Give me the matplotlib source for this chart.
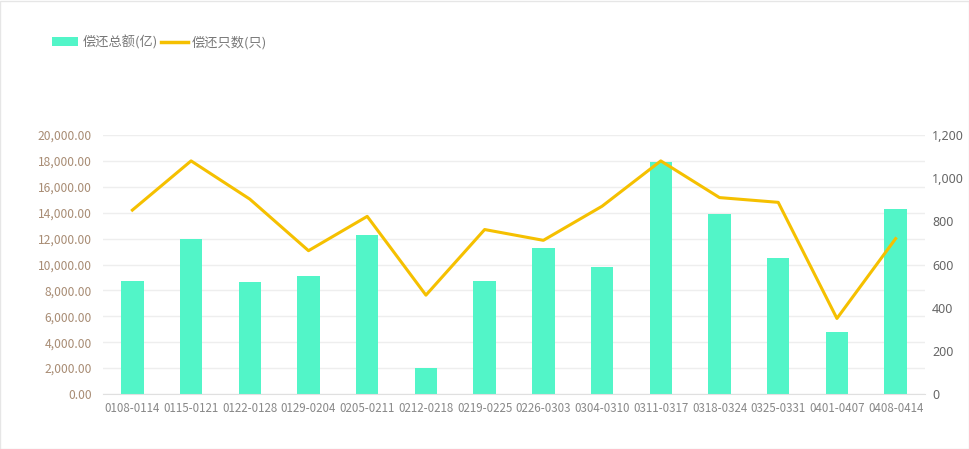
import matplotlib.pyplot as plt
from matplotlib.lines import Line2D
from matplotlib.patches import Patch, Rectangle

plt.rcParams['font.family'] = ['Noto Sans CJK SC', 'DejaVu Sans']

weeks = ['0108-0114', '0115-0121', '0122-0128', '0129-0204', '0205-0211',
         '0212-0218', '0219-0225', '0226-0303', '0304-0310', '0311-0317',
         '0318-0324', '0325-0331', '0401-0407', '0408-0414']
amount = [8720, 11970, 8650, 9110, 12280, 2010, 8720, 11270, 9800,
          17900, 13900, 10500, 4790, 14290]   # 偿还总额(亿)
count = [852, 1080, 903, 664, 823, 458, 762, 712, 870,
         1080, 910, 888, 350, 720]            # 偿还只数(只)

bar_color = '#52f5c8'
line_color = '#f5c000'
grid_color = '#eeeeee'

fig = plt.figure(figsize=(9.69, 4.49), dpi=100)
fig.patches.append(Rectangle((0.0005, 0.001), 0.999, 0.997, transform=fig.transFigure,
                             fill=False, edgecolor='#e6e6e6', linewidth=1))

ax = fig.add_axes([103 / 969, 1 - 394 / 449, (925 - 103) / 969, (394 - 135) / 449])
x = range(len(weeks))
ax.bar(x, amount, width=0.38, color=bar_color, zorder=2)
ax.set_ylim(0, 20000)
ax.set_xlim(-0.5, len(weeks) - 0.5)
ax.set_yticks(range(0, 20001, 2000))
ax.set_yticklabels([f'{v:,.2f}' for v in range(0, 20001, 2000)],
                   color='#a88c74', fontsize=8.7)
ax.set_xticks(list(x))
ax.set_xticklabels(weeks, color='#888888', fontsize=8.3)
ax.tick_params(length=0, pad=8)
ax.tick_params(axis='x', pad=6)
ax.grid(axis='y', color=grid_color, linewidth=1, zorder=0)
for s in ['top', 'right', 'left']:
    ax.spines[s].set_visible(False)
ax.spines['bottom'].set_color('#e0e0e0')

ax2 = ax.twinx()
ax2.plot(x, count, color=line_color, linewidth=2.2, zorder=3)
ax2.set_ylim(0, 1200)
ax2.set_yticks(range(0, 1201, 200))
ax2.set_yticklabels([f'{v:,}' for v in range(0, 1201, 200)],
                    color='#666666', fontsize=9, family='Noto Sans')
ax2.tick_params(length=0, pad=5)
for s in ax2.spines.values():
    s.set_visible(False)

handles = [Patch(facecolor=bar_color, edgecolor='none'),
           Line2D([0], [0], color=line_color, linewidth=2.5)]
fig.legend(handles, ['偿还总额(亿)', '偿还只数(只)'], loc='center left',
           bbox_to_anchor=(40 / 969, 1 - 42 / 449), ncol=2, frameon=False,
           fontsize=9.5, labelcolor='#777777', handlelength=2.0, handleheight=0.6,
           handletextpad=0.3, columnspacing=0.3)

fig.savefig('out.png', dpi=100)
